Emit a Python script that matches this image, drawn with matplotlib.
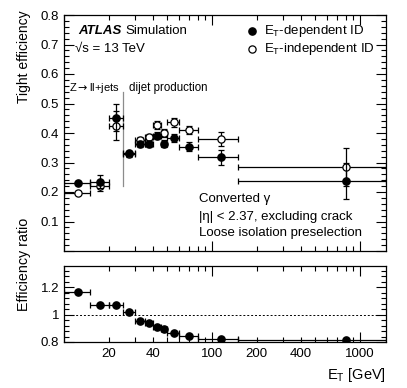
import matplotlib
matplotlib.use("Agg")
import matplotlib.pyplot as plt
import numpy as np
from matplotlib.ticker import FixedLocator, FuncFormatter, MultipleLocator

plt.rcParams['font.family'] = ['Liberation Sans', 'DejaVu Sans']
plt.rcParams['mathtext.fontset'] = 'custom'
plt.rcParams['mathtext.rm'] = 'Liberation Sans'
plt.rcParams['mathtext.it'] = 'Liberation Sans:italic'
plt.rcParams['mathtext.bf'] = 'Liberation Sans:bold'

# ---- data ----
bin_lo = [10, 15, 20, 25, 30, 35, 40, 45, 50, 60, 80, 150]
bin_hi = [15, 20, 25, 30, 35, 40, 45, 50, 60, 80, 150, 1500]
et_center = [12.5, 17.5, 22.5, 27.5, 32.5, 37.5, 42.5, 47.5, 55, 70, 115, 800]
eff_dep = [0.229, 0.235, 0.452, 0.331, 0.364, 0.364, 0.391, 0.363, 0.383, 0.354, 0.318, 0.237]
err_dep = [0.005, 0.022, 0.045, 0.008, 0.010, 0.010, 0.012, 0.012, 0.015, 0.015, 0.025, 0.060]
eff_indep = [0.198, 0.220, 0.425, 0.328, 0.376, 0.386, 0.427, 0.400, 0.437, 0.410, 0.380, 0.284]
err_indep = [0.005, 0.015, 0.050, 0.008, 0.010, 0.010, 0.012, 0.013, 0.015, 0.015, 0.025, 0.065]
ratio = [1.169, 1.071, 1.068, 1.017, 0.956, 0.940, 0.908, 0.896, 0.867, 0.847, 0.823, 0.813]

xtick_labels = [20, 40, 100, 200, 400, 1000]
split_et = 25

x = np.array(et_center)
xerr = np.array([x - np.array(bin_lo), np.array(bin_hi) - x])

W, H = 407, 388
fig = plt.figure(figsize=(W / 100, H / 100), dpi=100)

L, R = 64, 386
ax = fig.add_axes([L / W, (H - 251) / H, (R - L) / W, (251 - 15) / H])
axr = fig.add_axes([L / W, (H - 342) / H, (R - L) / W, (342 - 266) / H])

fs = 9.5
for a in (ax, axr):
    a.set_xscale('log')
    a.set_xlim(10, 1500)
    a.xaxis.set_major_locator(FixedLocator([10, 100, 1000]))
    minors = [v * d for d in (10, 100) for v in range(2, 10)]
    a.xaxis.set_minor_locator(FixedLocator(minors))
    a.tick_params(which='both', direction='in', top=True, right=True, labelsize=fs, width=0.8)
    a.tick_params(which='major', length=7)
    a.tick_params(which='minor', length=3.5)
    for s in a.spines.values():
        s.set_linewidth(0.9)

def xfmt(v, pos):
    iv = int(round(v))
    return str(iv) if iv in xtick_labels else ''

ax.xaxis.set_major_formatter(FuncFormatter(lambda v, p: ''))
ax.xaxis.set_minor_formatter(FuncFormatter(lambda v, p: ''))
axr.xaxis.set_major_formatter(FuncFormatter(xfmt))
axr.xaxis.set_minor_formatter(FuncFormatter(xfmt))
axr.tick_params(axis='x', which='both', pad=4)

# top panel
ax.set_ylim(0, 0.8)
ax.yaxis.set_major_locator(MultipleLocator(0.1))
ax.yaxis.set_minor_locator(MultipleLocator(0.02))
ax.yaxis.set_major_formatter(FuncFormatter(lambda v, p: '' if abs(v) < 1e-9 else ('%.1f' % v)))

kw = dict(fmt='o', ms=5.2, color='black', ecolor='black', elinewidth=0.9, capsize=2.3, capthick=0.9)
ax.errorbar(x, eff_indep, yerr=err_indep, xerr=xerr, mfc='white', mec='black', mew=0.9, zorder=3, **kw)
ax.errorbar(x, eff_dep, yerr=err_dep, xerr=xerr, mfc='black', mec='black', zorder=4, **kw)

ax.plot([split_et, split_et], [0.22, 0.54], color='0.55', lw=0.9, zorder=2)
ax.text(23.7, 0.553, r'Z$\rightarrow$ll+jets', ha='right', va='center', fontsize=8,
        math_fontfamily='dejavusans')
ax.text(27.6, 0.553, 'dijet production', ha='left', va='center', fontsize=8.3)

ax.text(0.043, 0.932, 'ATLAS', transform=ax.transAxes, fontsize=fs, fontweight='bold',
        fontstyle='italic', va='center', ha='left')
ax.text(0.19, 0.932, 'Simulation', transform=ax.transAxes, fontsize=fs, va='center', ha='left')
ax.text(0.034, 0.856, '√s = 13 TeV', transform=ax.transAxes, fontsize=fs, va='center', ha='left')

ax.plot([0.583], [0.932], 'o', ms=5.2, mfc='black', mec='black', transform=ax.transAxes, clip_on=False)
ax.plot([0.583], [0.856], 'o', ms=5.2, mfc='white', mec='black', mew=0.9, transform=ax.transAxes, clip_on=False)
ax.text(0.621, 0.932, r'E$_\mathrm{T}$-dependent ID', transform=ax.transAxes, fontsize=fs, va='center', ha='left')
ax.text(0.621, 0.856, r'E$_\mathrm{T}$-independent ID', transform=ax.transAxes, fontsize=fs, va='center', ha='left')

ax.text(0.419, 0.219, 'Converted γ', transform=ax.transAxes, fontsize=fs, va='center', ha='left')
ax.text(0.419, 0.143, '|η| < 2.37, excluding crack', transform=ax.transAxes, fontsize=fs, va='center', ha='left')
ax.text(0.419, 0.078, 'Loose isolation preselection', transform=ax.transAxes, fontsize=fs, va='center', ha='left')

# ratio panel
axr.set_ylim(0.8, 1.356)
axr.yaxis.set_major_locator(FixedLocator([0.8, 1.0, 1.2]))
axr.yaxis.set_minor_locator(MultipleLocator(0.04))
axr.yaxis.set_major_formatter(FuncFormatter(lambda v, p: '%g' % round(v, 2)))
axr.axhline(1.0, color='black', lw=0.7, ls=(0, (2, 2)))
axr.errorbar(x, ratio, xerr=xerr, mfc='black', mec='black', zorder=4, **kw)

fig.text(24 / W, 1 - 10 / H, 'Tight efficiency', rotation=90, ha='center', va='top', fontsize=10)
fig.text(24 / W, 1 - 218 / H, 'Efficiency ratio', rotation=90, ha='center', va='top', fontsize=10.3)
fig.text(386 / W, 1 - 375 / H, r'E$_\mathrm{T}$ [GeV]', ha='right', va='center', fontsize=10.5)

fig.savefig('out.png', dpi=100)
